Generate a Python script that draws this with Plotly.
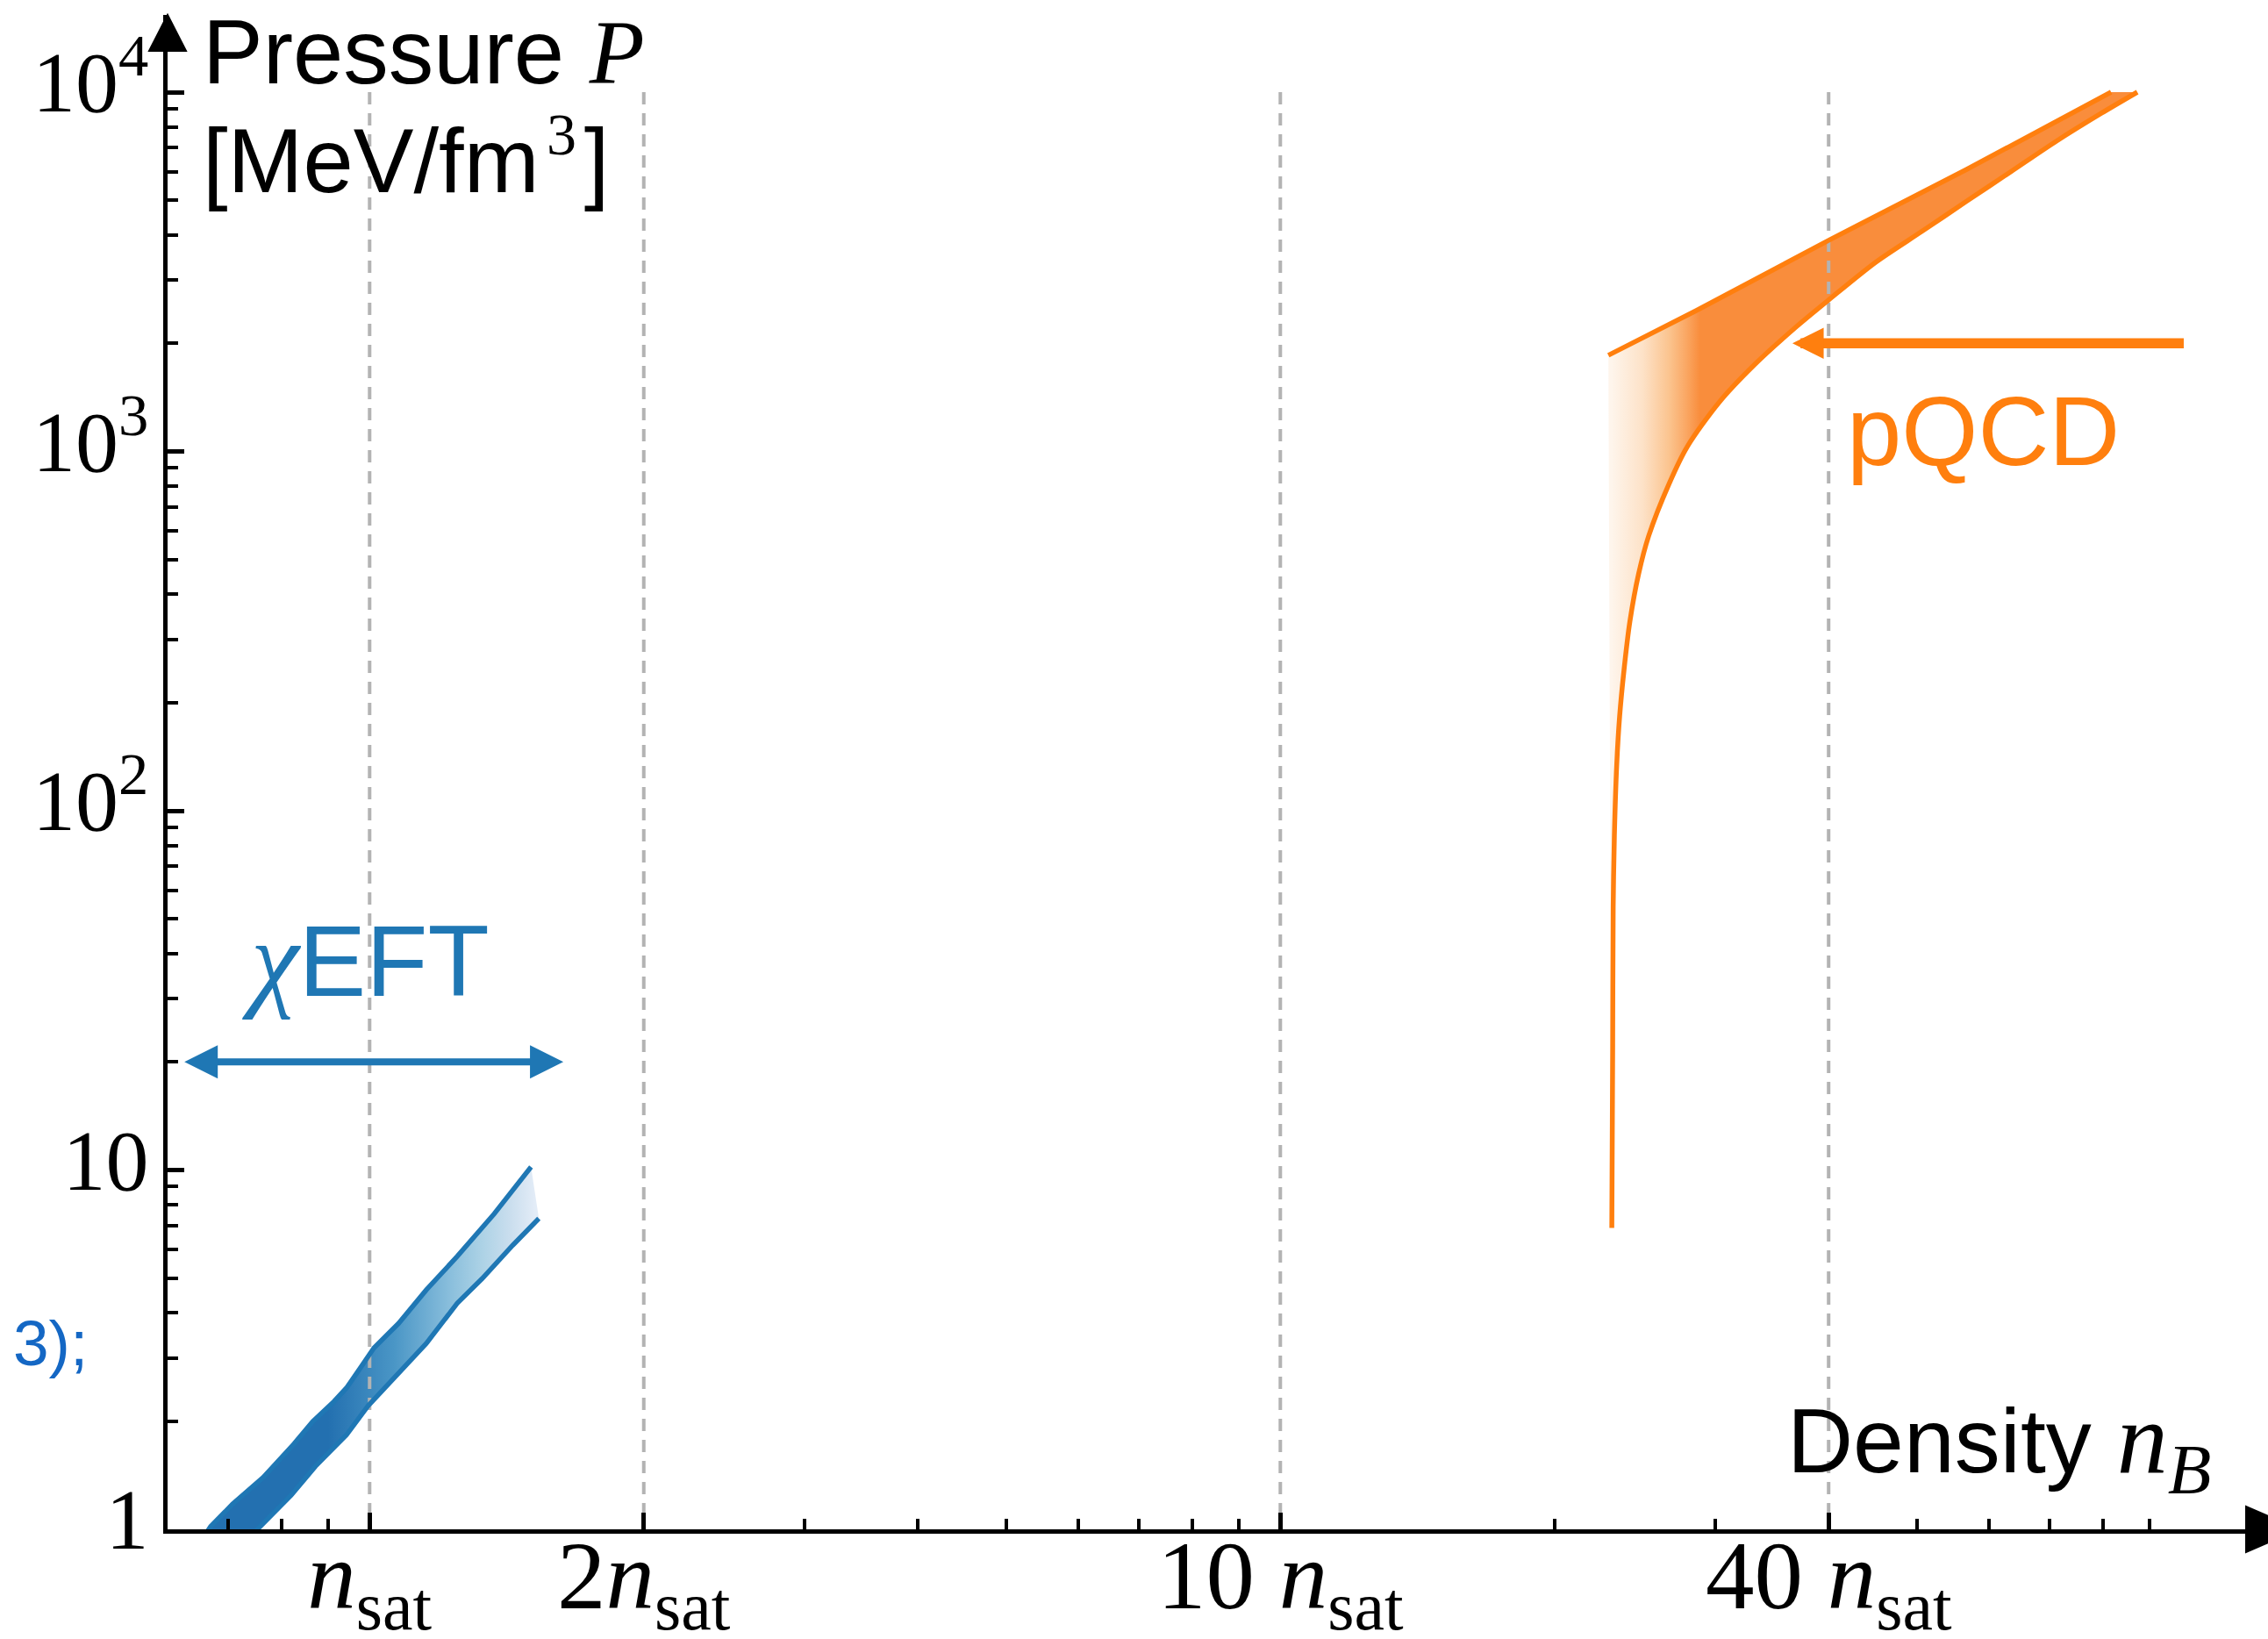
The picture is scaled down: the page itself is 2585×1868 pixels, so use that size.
import numpy as np
import plotly.graph_objects as go

# ---------------- data (density in units of n_sat, pressure in MeV/fm^3) ----------------
chi_upper_n = [0.64, 0.669, 0.707, 0.764, 0.826, 0.866, 0.914, 0.943, 0.973, 1.011, 1.076, 1.154, 1.248, 1.370, 1.504]
chi_upper_P = [0.86, 1.018, 1.175, 1.395, 1.729, 1.995, 2.27, 2.473, 2.773, 3.199, 3.743, 4.638, 5.75, 7.55, 10.2]
chi_lower_n = [0.71, 0.758, 0.820, 0.872, 0.943, 0.996, 1.085, 1.154, 1.248, 1.329, 1.436, 1.534]
chi_lower_P = [0.86, 1.018, 1.244, 1.498, 1.830, 2.205, 2.773, 3.291, 4.257, 4.986, 6.176, 7.33]

pqcd_upper_n = [22.92, 28.62, 40.05, 56.66, 81.7]
pqcd_upper_P = [1852, 2466, 3875, 6087, 10000]
pqcd_lower_n = [23.12, 23.17, 23.20, 23.27, 23.41, 23.58, 23.85, 24.20, 24.74, 25.38, 26.73,
                27.98, 30.29, 33.19, 36.76, 40.05, 45.11, 50.58, 56.66, 63.51, 71.18, 79.75, 87.3]
pqcd_lower_P = [6.90, 21.6, 54.0, 85.3, 134.7, 182.7, 247.8, 336, 456, 582, 814,
                1031, 1365, 1747, 2210, 2646, 3369, 4088, 4963, 6022, 7311, 8740, 10000]

x_major_vals = [1, 2, 10, 40]
x_major_text = ["<i>n</i><sub>sat</sub>", "2<i>n</i><sub>sat</sub>",
                "10 <i>n</i><sub>sat</sub>", "40 <i>n</i><sub>sat</sub>"]
x_minor_vals = [0.7, 0.8, 0.9, 3, 4, 5, 6, 7, 8, 9, 20, 30, 50, 60, 70, 80, 90]
y_major_vals = [1, 10, 100, 1000, 10000]
y_major_text = ["1", "10", "10<sup>2</sup>", "10<sup>3</sup>", "10<sup>4</sup>"]
y_minor_vals = [m * d for d in [1, 10, 100, 1000] for m in range(2, 10)]

chi_arrow_n = [0.624, 1.632]
chi_arrow_P = 20
pqcd_arrow_n = [98.5, 36.5]
pqcd_arrow_P = 2000
dash_P = [10000, 1]

# ---------------- styling ----------------
W, H = 2585, 1868
ML, MR, MT, MB = 191, 0, 17, 125
PW, PH = W - ML - MR, H - MT - MB
XDEC, YDEC = 1038.0, 409.5
x0log = np.log10(0.6)
xrange = [x0log, x0log + PW / XDEC]
yrange = [0, PH / YDEC]

BLUE = "#1f77b4"
ORANGE = "#ff7f0e"
SERIF = "Liberation Serif"
SANS = "Liberation Sans"


def X(px):
    return (px - ML) / PW


def Y(py):
    return (H - MB - py) / PH


fig = go.Figure()

# blue band fill (gradient)
fig.add_trace(go.Scatter(
    x=chi_upper_n + chi_lower_n[::-1], y=chi_upper_P + chi_lower_P[::-1],
    mode="lines", fill="toself", line=dict(width=0, color=BLUE),
    fillgradient=dict(type="horizontal", start=0.9, stop=1.52,
                      colorscale=[[0, "#2370b0"], [0.32, "#4a96c6"], [0.6, "#8cc0dd"],
                                  [0.75, "#aed3e6"], [0.88, "#cadeee"], [1, "#e3ecf7"]]),
    hoverinfo="skip", showlegend=False))

# orange band fill (gradient)
fig.add_trace(go.Scatter(
    x=pqcd_upper_n + pqcd_lower_n[::-1], y=pqcd_upper_P + pqcd_lower_P[::-1],
    mode="lines", fill="toself", line=dict(width=0, color=ORANGE),
    fillgradient=dict(type="horizontal", start=23.1, stop=28.9,
                      colorscale=[[0, "#fef5ec"], [0.35, "#fde2c8"], [0.65, "#fbc48f"],
                                  [0.85, "#faa662"], [1, "#f98d3c"]]),
    hoverinfo="skip", showlegend=False))

# dashed reference lines
for v in x_major_vals:
    fig.add_trace(go.Scatter(x=[v, v], y=dash_P, mode="lines",
                             line=dict(color="#b3b3b3", width=4, dash="14px,10px"),
                             hoverinfo="skip", showlegend=False))

# band boundaries
fig.add_trace(go.Scatter(x=chi_upper_n, y=chi_upper_P, mode="lines",
                         line=dict(color=BLUE, width=5.5), hoverinfo="skip", showlegend=False))
fig.add_trace(go.Scatter(x=chi_lower_n, y=chi_lower_P, mode="lines",
                         line=dict(color=BLUE, width=5.5), hoverinfo="skip", showlegend=False))
fig.add_trace(go.Scatter(x=pqcd_upper_n, y=pqcd_upper_P, mode="lines",
                         line=dict(color=ORANGE, width=5.5), hoverinfo="skip", showlegend=False))
fig.add_trace(go.Scatter(x=pqcd_lower_n, y=pqcd_lower_P, mode="lines",
                         line=dict(color=ORANGE, width=5.5, shape="spline", smoothing=0.8),
                         hoverinfo="skip", showlegend=False))

fig.update_xaxes(
    type="log", range=xrange, showline=True, linecolor="black", linewidth=5,
    showgrid=False, zeroline=False, automargin=False,
    ticks="inside", ticklen=19, tickwidth=4.5, tickcolor="black",
    tickmode="array", tickvals=x_major_vals, ticktext=x_major_text,
    tickfont=dict(family=SERIF, size=111, color="black"),
    ticklabelstandoff=-48,
    minor=dict(tickmode="array", tickvals=x_minor_vals, ticks="inside",
               ticklen=12, tickwidth=4, tickcolor="black", showgrid=False),
)
fig.update_yaxes(
    type="log", range=yrange, showline=True, linecolor="black", linewidth=5,
    showgrid=False, zeroline=False, automargin=False,
    ticks="inside", ticklen=19, tickwidth=4.5, tickcolor="black",
    tickmode="array", tickvals=y_major_vals, ticktext=y_major_text,
    tickfont=dict(family=SERIF, size=98, color="black"),
    ticklabelstandoff=-3, ticklabelshift=-12,
    minor=dict(tickmode="array", tickvals=y_minor_vals, ticks="inside",
               ticklen=12, tickwidth=4, tickcolor="black", showgrid=False),
)

# axis arrowheads
fig.add_shape(type="path", xref="paper", yref="paper", layer="above",
              path=f"M {X(191)},{Y(17)} L {X(170)},{Y(58)} L {X(212)},{Y(58)} Z",
              fillcolor="black", line=dict(color="black", width=2))
fig.add_shape(type="path", xref="paper", yref="paper", layer="above",
              path=f"M {X(2620)},{Y(1743)} L {X(2560)},{Y(1717)} L {X(2560)},{Y(1769)} Z",
              fillcolor="black", line=dict(color="black", width=2))

# range arrows
fig.add_annotation(x=np.log10(chi_arrow_n[1]), y=np.log10(chi_arrow_P),
                   ax=np.log10(chi_arrow_n[0]), ay=np.log10(chi_arrow_P),
                   xref="x", yref="y", axref="x", ayref="y", text="",
                   showarrow=True, arrowhead=2, arrowsize=0.95,
                   startarrowhead=2, startarrowsize=0.95, arrowside="end+start",
                   arrowwidth=8, arrowcolor=BLUE)
fig.add_annotation(x=np.log10(pqcd_arrow_n[1]), y=np.log10(pqcd_arrow_P),
                   ax=np.log10(pqcd_arrow_n[0]), ay=np.log10(pqcd_arrow_P),
                   xref="x", yref="y", axref="x", ayref="y", text="",
                   showarrow=True, arrowhead=2, arrowsize=0.62,
                   arrowwidth=11.5, arrowcolor=ORANGE)

# text labels
def add_text(text, px, py, xanchor, yanchor, size, color="black", family=SANS):
    fig.add_annotation(text=text, x=X(px), y=Y(py), xref="paper", yref="paper",
                       xanchor=xanchor, yanchor=yanchor, showarrow=False,
                       font=dict(family=family, size=size, color=color))

SER = f'<span style="font-family:{SERIF}">'
SER3 = f'<span style="font-family:{SERIF};font-size:68px">'
SERB = f'<span style="font-family:{SERIF};font-size:116px">'
SERX = f'<span style="font-family:{SERIF};font-size:124px">'
add_text(f'Pressure {SER}<i>P</i></span>', 229, 95 + 24, "left", "bottom", 103)
add_text(f'[MeV/fm\u200a<sup>{SER3}3</span></sup>\u200a]', 229, 219 + 24, "left", "bottom", 103)
add_text(f'Density {SERB}<i>n</i><sub><i>B</i></sub></span>', 2522, 1678 - 0.891 * 116 - 2,
         "right", "top", 104)
add_text(f'{SERX}<i>χ</i></span>EFT', 274, 1137 + 27, "left", "bottom", 115, BLUE)
add_text('pQCD', 2103, 530 + 26, "left", "bottom", 112, ORANGE)
add_text('3);', 13, 1555 + 17.5, "left", "bottom", 73, "#1467c4")

fig.update_layout(
    width=W, height=H, autosize=False,
    margin=dict(l=ML, r=MR, t=MT, b=MB, pad=0),
    paper_bgcolor="white", plot_bgcolor="white",
    showlegend=False,
)

fig.write_html("out.html")
